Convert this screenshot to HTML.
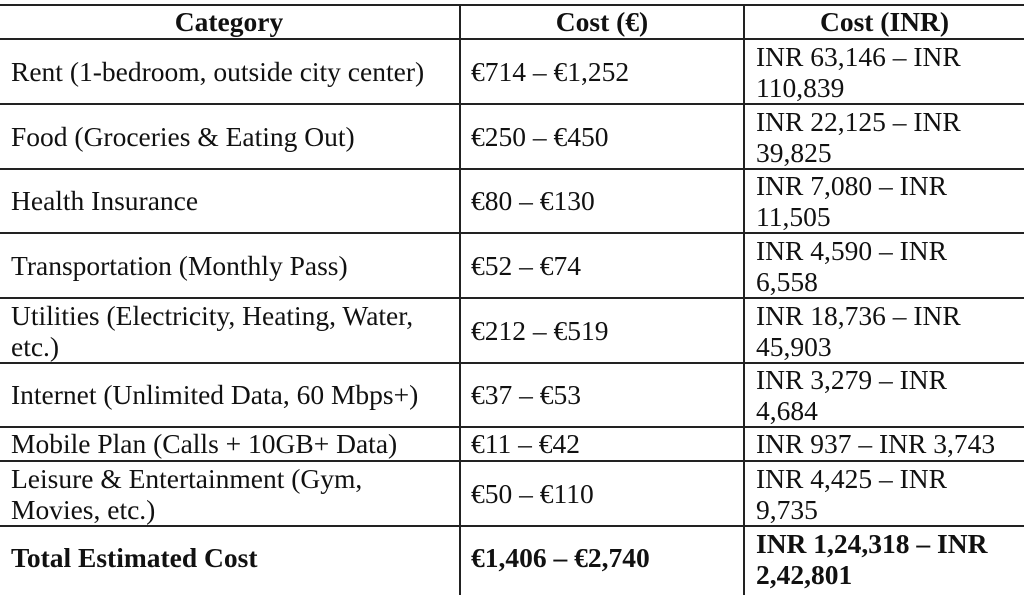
<!DOCTYPE html>
<html><head><meta charset="utf-8"><style>
body{margin:0;width:1024px;height:587px;background:#fff;overflow:hidden;font-family:"Liberation Serif","Times New Roman",Tinos,"DejaVu Serif",serif;font-size:27.5px;color:#111;position:relative}
.h{position:absolute;left:0;width:1024px;height:2px;background:#222}
.v{position:absolute;top:5px;width:2px;height:590px;background:#222}
.t{position:absolute;line-height:31px;white-space:nowrap;font-family:"Liberation Serif","Times New Roman",Tinos,"DejaVu Serif",serif}
.b{font-weight:bold}
.c{text-align:center}
</style></head><body>
<div class="h" style="top:4px"></div>
<div class="h" style="top:38px"></div>
<div class="h" style="top:103px"></div>
<div class="h" style="top:168px"></div>
<div class="h" style="top:232px"></div>
<div class="h" style="top:297px"></div>
<div class="h" style="top:362px"></div>
<div class="h" style="top:426px"></div>
<div class="h" style="top:460px"></div>
<div class="h" style="top:525px"></div>
<div class="v" style="left:459px"></div>
<div class="v" style="left:743px"></div>

<div class="t b c" style="left:0;width:458px;top:6px">Category</div>
<div class="t b c" style="left:461px;width:282px;top:6px">Cost (€)</div>
<div class="t b c" style="left:745px;width:279px;top:6px">Cost (INR)</div>

<div class="t" style="left:11px;top:56px">Rent (1-bedroom, outside city center)</div>
<div class="t" style="left:471px;top:56px">€714 – €1,252</div>
<div class="t" style="left:756px;top:41px">INR 63,146 – INR<br>110,839</div>

<div class="t" style="left:11px;top:121px">Food (Groceries &amp; Eating Out)</div>
<div class="t" style="left:471px;top:121px">€250 – €450</div>
<div class="t" style="left:756px;top:106px">INR 22,125 – INR<br>39,825</div>

<div class="t" style="left:11px;top:185px">Health Insurance</div>
<div class="t" style="left:471px;top:185px">€80 – €130</div>
<div class="t" style="left:756px;top:170px">INR 7,080 – INR<br>11,505</div>

<div class="t" style="left:11px;top:250px">Transportation (Monthly Pass)</div>
<div class="t" style="left:471px;top:250px">€52 – €74</div>
<div class="t" style="left:756px;top:235px">INR 4,590 – INR<br>6,558</div>

<div class="t" style="left:11px;top:300px">Utilities (Electricity, Heating, Water,<br>etc.)</div>
<div class="t" style="left:471px;top:315px">€212 – €519</div>
<div class="t" style="left:756px;top:300px">INR 18,736 – INR<br>45,903</div>

<div class="t" style="left:11px;top:379px">Internet (Unlimited Data, 60 Mbps+)</div>
<div class="t" style="left:471px;top:379px">€37 – €53</div>
<div class="t" style="left:756px;top:364px">INR 3,279 – INR<br>4,684</div>

<div class="t" style="left:11px;top:428px">Mobile Plan (Calls + 10GB+ Data)</div>
<div class="t" style="left:471px;top:428px">€11 – €42</div>
<div class="t" style="left:756px;top:428px">INR 937 – INR 3,743</div>

<div class="t" style="left:11px;top:463px">Leisure &amp; Entertainment (Gym,<br>Movies, etc.)</div>
<div class="t" style="left:471px;top:478px">€50 – €110</div>
<div class="t" style="left:756px;top:463px">INR 4,425 – INR<br>9,735</div>

<div class="t b" style="left:11px;top:542px">Total Estimated Cost</div>
<div class="t b" style="left:471px;top:542px">€1,406 – €2,740</div>
<div class="t b" style="left:756px;top:528px">INR 1,24,318 – INR<br>2,42,801</div>
</body></html>
